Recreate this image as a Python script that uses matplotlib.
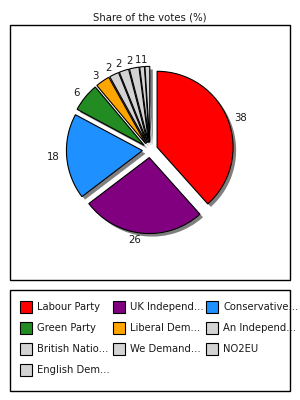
import matplotlib.pyplot as plt
from matplotlib.patches import Rectangle

# data
parties = ['Labour Party', 'UK Independ...', 'Conservative...', 'Green Party',
           'Liberal Dem...', 'An Independ...', 'British Natio...', 'We Demand...',
           'NO2EU', 'English Dem...']
votes = [38, 26, 18, 6, 3, 2, 2, 2, 1, 1]
colors = ['#ff0000', '#800080', '#1e90ff', '#228b22', '#ffa500',
          '#d3d3d3', '#d3d3d3', '#d3d3d3', '#d3d3d3', '#d3d3d3']

W, H = 300, 400
fig = plt.figure(figsize=(3, 4), dpi=100)
fig.patch.set_facecolor('white')

# frames
fig.patches.append(Rectangle((10 / W, 1 - 280 / H), 280 / W, 255 / H,
                             transform=fig.transFigure, fill=False,
                             edgecolor='black', lw=1))
fig.patches.append(Rectangle((10 / W, 1 - 391 / H), 280 / W, 101 / H,
                             transform=fig.transFigure, fill=False,
                             edgecolor='black', lw=1))
fig.text(150 / W, 1 - 17 / H, 'Share of the votes (%)', ha='center', va='center',
         fontsize=7.3, color='#1a1a1a')

cx, cy, r = 150, 150, 76
side = 2.6 * r
ax = fig.add_axes([(cx - side / 2) / W, 1 - (cy + side / 2) / H, side / W, side / H])
explode = [0.1] * len(votes)
# shadow
ax.pie(votes, colors=['#7f7f7f'] * len(votes), startangle=90, counterclock=False,
       explode=explode, center=(0.04, -0.04),
       wedgeprops=dict(edgecolor='none'))
wedges, texts = ax.pie(votes, colors=colors, startangle=90, counterclock=False,
                       explode=explode, labels=[str(v) for v in votes],
                       labeldistance=1.09,
                       wedgeprops=dict(edgecolor='black', linewidth=0.8),
                       textprops=dict(fontsize=7.3, color='#1a1a1a'))
ax.set_xlim(-1.3, 1.3)
ax.set_ylim(-1.3, 1.3)
ax.set_aspect('equal')
ax.axis('off')

# legend, drawn row by row in 3 columns
col_x = [20, 113, 206]
row_y = [307, 328, 349, 370]
for i, (name, c) in enumerate(zip(parties, colors)):
    x = col_x[i % 3]
    y = row_y[i // 3]
    fig.patches.append(Rectangle((x / W, 1 - (y + 6) / H), 12 / W, 12 / H,
                                 transform=fig.transFigure, facecolor=c,
                                 edgecolor='black', lw=0.8))
    fig.text((x + 17) / W, 1 - y / H, name, ha='left', va='center',
             fontsize=7.2, color='#1a1a1a')

fig.savefig('out.png', dpi=100)
